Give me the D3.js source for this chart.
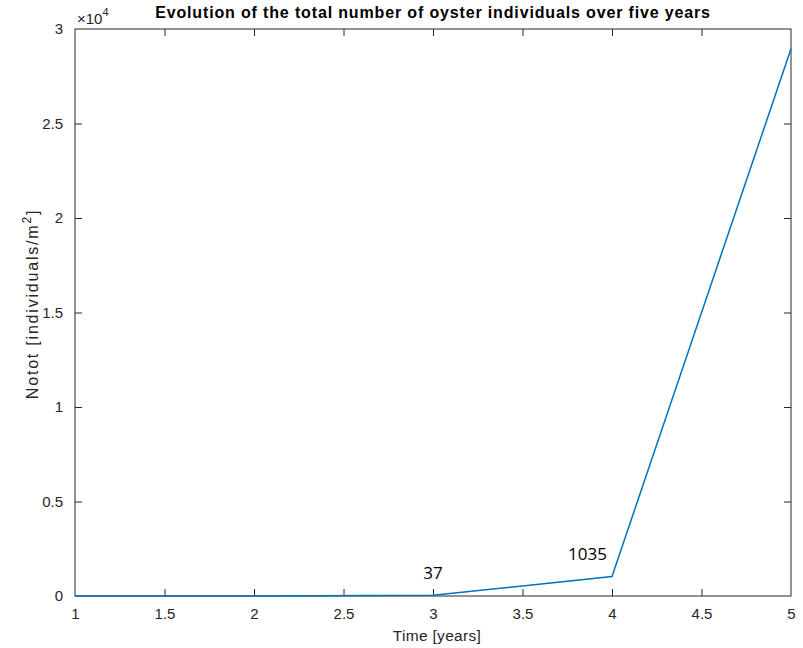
<!DOCTYPE html>
<html>
<head>
<meta charset="utf-8">
<script src="https://cdn.jsdelivr.net/npm/d3@7"></script>
<style>
  body { margin: 0; background: #fff; }
  text { font-family: "Liberation Sans", Arial, sans-serif; }
</style>
</head>
<body>
<svg id="chart" width="803" height="648"></svg>
<script>
// data
const years = [1, 2, 3, 4, 5];
const notot = [2, 4, 37, 1035, 28950];
const labelYears = [3, 4];
const labelValues = ["37", "1035"];
const xTicks = [1, 1.5, 2, 2.5, 3, 3.5, 4, 4.5, 5];
const yTicks = [0, 5000, 10000, 15000, 20000, 25000, 30000];

const margin = {left: 75, right: 12, top: 29, bottom: 52};
const width = 803, height = 648;
const axisColor = '#262626';

const svg = d3.select('#chart');

const x = d3.scaleLinear().domain([1, 5]).range([margin.left, width - margin.right]);
const y = d3.scaleLinear().domain([0, 30000]).range([height - margin.bottom, margin.top]);

const plot = svg.append('g');

// box
plot.append('rect')
  .attr('x', x(1)).attr('y', y(30000))
  .attr('width', x(5) - x(1)).attr('height', y(0) - y(30000))
  .attr('fill', 'none').attr('stroke', axisColor).attr('stroke-width', 1);

// axes (ticks pointing inward)
const tickLen = 7;
const fmtX = d => d3.format('')(d);
const fmtY = d => d3.format('')(d / 10000);

const xAxis = svg.append('g')
  .attr('transform', `translate(0,${y(0)})`)
  .call(d3.axisBottom(x).tickValues(xTicks).tickFormat(fmtX).tickSizeInner(-tickLen).tickSizeOuter(0).tickPadding(12));
const xAxisTop = svg.append('g')
  .attr('transform', `translate(0,${y(30000)})`)
  .call(d3.axisTop(x).tickValues(xTicks).tickFormat('').tickSizeInner(-tickLen).tickSizeOuter(0));
const yAxis = svg.append('g')
  .attr('transform', `translate(${x(1)},0)`)
  .call(d3.axisLeft(y).tickValues(yTicks).tickFormat(fmtY).tickSizeInner(-tickLen).tickSizeOuter(0).tickPadding(12));
const yAxisRight = svg.append('g')
  .attr('transform', `translate(${x(5)},0)`)
  .call(d3.axisRight(y).tickValues(yTicks).tickFormat('').tickSizeInner(-tickLen).tickSizeOuter(0));

[xAxis, xAxisTop, yAxis, yAxisRight].forEach(a => {
  a.select('.domain').remove();
  a.selectAll('line').attr('stroke', axisColor);
  a.selectAll('text')
    .attr('fill', axisColor)
    .style('font-family', '"Liberation Sans", Arial, sans-serif')
    .style('font-size', '15px');
});
// no tick marks at the box corners
xAxis.selectAll('.tick').filter(d => d === 1 || d === 5).select('line').remove();
xAxisTop.selectAll('.tick').filter(d => d === 1 || d === 5).select('line').remove();
yAxis.selectAll('.tick').filter(d => d === 0 || d === 30000).select('line').remove();
yAxisRight.selectAll('.tick').filter(d => d === 0 || d === 30000).select('line').remove();

// exponent label
const expo = svg.append('text')
  .attr('x', x(1) + 2).attr('y', y(30000) - 5)
  .attr('fill', axisColor).style('font-size', '15px');
expo.append('tspan').text('\u00d710');
expo.append('tspan').attr('dy', -8).style('font-size', '11px').text('4');

// line
const line = d3.line().x((d, i) => x(years[i])).y(d => y(d));
svg.append('path')
  .datum(notot)
  .attr('d', line)
  .attr('fill', 'none')
  .attr('stroke', '#0072BD')
  .attr('stroke-width', 1.5);

// annotations
svg.selectAll('.ann')
  .data(labelYears)
  .enter()
  .append('text')
  .attr('class', 'ann')
  .attr('x', d => x(d))
  .attr('y', (d, i) => y(notot[years.indexOf(d)]) - 16)
  .attr('text-anchor', (d, i) => i === 0 ? 'middle' : 'end')
  .attr('dx', (d, i) => i === 0 ? 0 : -5)
  .style('font-family', '"Open Sans", sans-serif')
  .style('font-size', '17px')
  .attr('fill', '#000')
  .text((d, i) => labelValues[i]);

// title
svg.append('text')
  .attr('x', (x(1) + x(5)) / 2).attr('y', 18)
  .attr('text-anchor', 'middle')
  .style('font-weight', 'bold').style('font-size', '16px')
  .style('letter-spacing', '0.85px')
  .attr('fill', '#000')
  .text('Evolution of the total number of oyster individuals over five years');

// x label
svg.append('text')
  .attr('x', 437).attr('y', 641)
  .attr('text-anchor', 'middle')
  .style('font-size', '15.5px')
  .style('letter-spacing', '0.3px')
  .attr('fill', axisColor)
  .text('Time [years]');

// y label
const yl = svg.append('text')
  .attr('transform', `translate(38,304) rotate(-90)`)
  .attr('text-anchor', 'middle')
  .style('font-size', '16px')
  .style('letter-spacing', '1.8px')
  .attr('fill', axisColor);
yl.append('tspan').text('Notot [individuals/m');
yl.append('tspan').attr('dy', -7).style('font-size', '12px').text('2');
yl.append('tspan').attr('dy', 7).text(']');
</script>
</body>
</html>
